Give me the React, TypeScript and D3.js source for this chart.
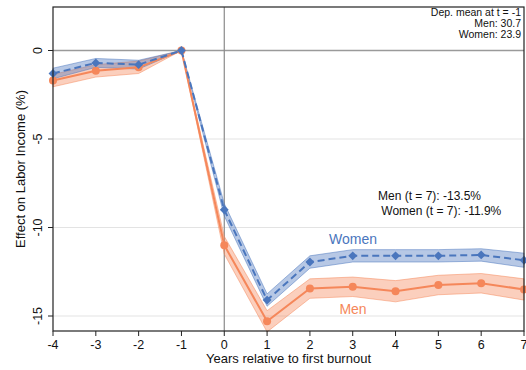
import React from "react";
import * as d3 from "d3";

const years = [-4, -3, -2, -1, 0, 1, 2, 3, 4, 5, 6, 7];
const womenEst = [-1.3, -0.7, -0.8, 0, -9.0, -14.1, -11.95, -11.6, -11.6, -11.6, -11.55, -11.85];
const womenLo = [-1.6, -0.95, -1.05, 0, -9.35, -14.45, -12.3, -11.95, -11.95, -11.95, -11.9, -12.25];
const womenHi = [-1.0, -0.45, -0.55, 0, -8.65, -13.75, -11.6, -11.25, -11.25, -11.25, -11.2, -11.45];
const menEst = [-1.7, -1.15, -0.95, 0, -11.0, -15.3, -13.45, -13.35, -13.6, -13.25, -13.15, -13.5];
const menLo = [-2.05, -1.5, -1.3, 0, -11.5, -15.9, -14.0, -13.9, -14.2, -13.8, -13.7, -14.1];
const menHi = [-1.35, -0.8, -0.6, 0, -10.5, -14.7, -12.9, -12.8, -13.0, -12.7, -12.6, -12.9];
const yTicks = [0, -5, -10, -15];
const xTicks = [-4, -3, -2, -1, 0, 1, 2, 3, 4, 5, 6, 7];
const depMeanLines = ["Dep. mean at t = -1", "Men: 30.7", "Women: 23.9"];
const t7Lines = ["Men (t = 7): -13.5%", " Women (t = 7): -11.9%"];

const W = 526, H = 370;
const L = 53, R = 524, T = 7, B = 331;
const BLUE = "#4a76bd";
const ORANGE = "#f5875a";
const FONT = "Liberation Sans, Arial, sans-serif";

export default function App() {
  const x = d3.scaleLinear().domain([-4, 7]).range([L, R]);
  const y = d3.scaleLinear().domain([-15, 0]).range([316, 50.5]);

  const band = (lo: number[], hi: number[]) =>
    d3.area<number>()
      .x((_, i) => x(years[i]))
      .y0((_, i) => y(lo[i]))
      .y1((_, i) => y(hi[i]))(years) || "";
  const line = (v: number[]) =>
    d3.line<number>().x((_, i) => x(years[i])).y((d) => y(d))(v) || "";

  const diamond = d3.symbol().type(d3.symbolDiamond2).size(50)() || "";

  return (
    <svg width={W} height={H} style={{ position: "absolute", left: 0, top: 0, background: "#fff" }} fontFamily={FONT}>
      <rect x={0} y={0} width={W} height={H} fill="#fff" />
      {/* gridlines */}
      {yTicks.filter((t) => t !== 0).map((t) => (
        <line key={t} x1={L} x2={R} y1={y(t)} y2={y(t)} stroke="#e3e3e3" strokeWidth={1.2} />
      ))}
      <line x1={L} x2={R} y1={y(0)} y2={y(0)} stroke="#9a9a9a" strokeWidth={1.6} />
      <line x1={x(0)} x2={x(0)} y1={T} y2={B} stroke="#8a8a8a" strokeWidth={1.2} />

      {/* bands */}
      <path d={band(menLo, menHi)} fill={ORANGE} fillOpacity={0.4} stroke={ORANGE} strokeOpacity={0.5} strokeWidth={1} />
      <path d={band(womenLo, womenHi)} fill={BLUE} fillOpacity={0.4} stroke={BLUE} strokeOpacity={0.5} strokeWidth={1} />

      {/* lines */}
      <path d={line(menEst)} fill="none" stroke={ORANGE} strokeWidth={2} />
      {menEst.map((v, i) => (
        <circle key={"m" + i} cx={x(years[i])} cy={y(v)} r={4} fill={ORANGE} />
      ))}
      <path d={line(womenEst)} fill="none" stroke={BLUE} strokeWidth={2} strokeDasharray="7,4" />
      {womenEst.map((v, i) => (
        <path key={"w" + i} d={diamond} transform={`translate(${x(years[i])},${y(v)})`} fill={BLUE} />
      ))}

      {/* frame */}
      <rect x={L} y={T} width={R - L} height={B - T} fill="none" stroke="#222" strokeWidth={1.2} />

      {/* y axis ticks */}
      {yTicks.map((t) => (
        <g key={t}>
          <line x1={L - 5} x2={L} y1={y(t)} y2={y(t)} stroke="#222" strokeWidth={1} />
          <text transform={`translate(${L - 11},${y(t)}) rotate(-90)`} textAnchor="middle" fontSize={12.5} fill="#111">
            {t}
          </text>
        </g>
      ))}
      {/* x axis ticks */}
      {xTicks.map((t) => (
        <g key={t}>
          <line x1={x(t)} x2={x(t)} y1={B} y2={B + 5} stroke="#222" strokeWidth={1} />
          <text x={x(t)} y={B + 18} textAnchor="middle" fontSize={12.5} fill="#111">
            {t}
          </text>
        </g>
      ))}
      <text x={(L + R) / 2} y={363} textAnchor="middle" fontSize={13} fill="#111">
        Years relative to first burnout
      </text>
      <text transform={`translate(25,${(T + B) / 2}) rotate(-90)`} textAnchor="middle" fontSize={13} fill="#111">
        Effect on Labor Income (%)
      </text>

      {/* annotations */}
      {depMeanLines.map((s, i) => (
        <text key={s} x={R - 3} y={16 + i * 11} textAnchor="end" fontSize={10.5} fill="#111">
          {s}
        </text>
      ))}
      {t7Lines.map((s, i) => (
        <text key={s} x={378} y={200 + i * 14.5} fontSize={12} fill="#111" style={{ whiteSpace: "pre" }}>
          {s}
        </text>
      ))}
      <text x={353} y={244} textAnchor="middle" fontSize={14} fill={BLUE}>Women</text>
      <text x={353} y={314} textAnchor="middle" fontSize={14} fill={ORANGE}>Men</text>
    </svg>
  );
}
